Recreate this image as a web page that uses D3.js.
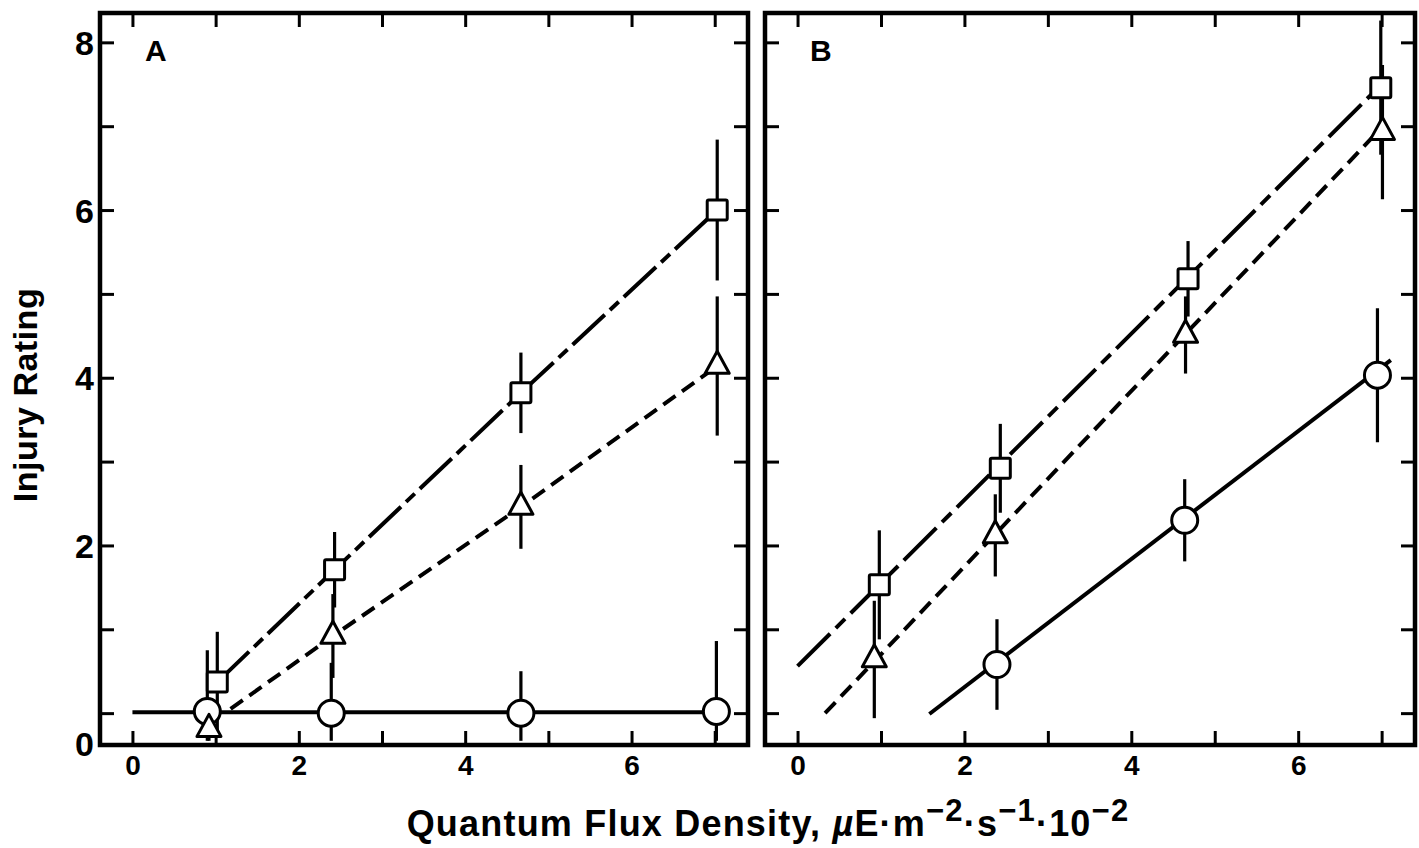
<!DOCTYPE html>
<html>
<head>
<meta charset="utf-8">
<script src="https://cdn.jsdelivr.net/npm/d3@7"></script>
<style>
  html, body { margin: 0; padding: 0; background: #fff; }
  svg { display: block; }
  text { font-family: "Liberation Sans", Arial, Helvetica, sans-serif; font-weight: bold; fill: #000; }
</style>
</head>
<body>
<svg id="chart" width="1419" height="848"></svg>
<script>
// ---------------- DATA ----------------
// Panel A
const aSquareX   = [1.02, 2.43, 4.67, 7.03];
const aSquareY   = [0.37, 1.71, 3.82, 6.00];
const aSquareErr = [0.60, 0.45, 0.48, 0.84];

const aTriX   = [0.92, 2.41, 4.67, 7.03];
const aTriY   = [-0.19, 0.92, 2.46, 4.14];
const aTriErr = [0.30, 0.50, 0.50, 0.83];

const aCircX   = [0.90, 2.39, 4.67, 7.02];
const aCircY   = [0.02, 0.00, 0.00, 0.02];
const aCircErr = [0.73, 0.60, 0.50, 0.84];

// Panel A connecting lines
const aSquareLine = [[1.02, 0.37], [2.43, 1.71], [4.67, 3.82], [7.03, 6.00]];
const aTriLine    = [[1.18, 0.05], [2.41, 0.92], [4.67, 2.46], [7.03, 4.14]];
const aCircLine   = [[0.0, 0.01], [7.02, 0.01]];

// Panel B
const bSquareX   = [0.98, 2.43, 4.68, 6.99];
const bSquareY   = [1.53, 2.92, 5.18, 7.46];
const bSquareErr = [0.65, 0.53, 0.45, 0.80];

const bTriX   = [0.92, 2.37, 4.65, 7.01];
const bTriY   = [0.64, 2.12, 4.51, 6.93];
const bTriErr = [0.70, 0.49, 0.46, 0.80];

const bCircX   = [2.39, 4.64, 6.95];
const bCircY   = [0.58, 2.30, 4.03];
const bCircErr = [0.54, 0.49, 0.80];

// Panel B regression lines
const bSquareLine = [[0.0, 0.56], [7.0, 7.50]];
const bTriLine    = [[0.33, 0.00], [6.95, 6.93]];
const bCircLine   = [[1.58, -0.01], [7.11, 4.21]];

// Axis ticks / labels
const xTicks = [0, 1, 2, 3, 4, 5, 6, 7];
const xLabels = [0, 2, 4, 6];
const yTicks = [0, 1, 2, 3, 4, 5, 6, 7, 8];
const yLabels = [0, 2, 4, 6, 8];
const panelNames = ["A", "B"];
const yTitle = "Injury Rating";

// ---------------- LAYOUT ----------------
const svg = d3.select("#chart");
const yTop = 13, yBottom = 745;
const xDomain = [-0.39, 7.40];
const yDomain = [-0.38, 8.35];
const y = d3.scaleLinear().domain(yDomain).range([yBottom, yTop]);

const panels = [
  { name: panelNames[0], left: 100, right: 748,
    squares: {x: aSquareX, y: aSquareY, e: aSquareErr},
    tris: {x: aTriX, y: aTriY, e: aTriErr},
    circs: {x: aCircX, y: aCircY, e: aCircErr},
    lines: [
      {pts: aCircLine, dash: null},
      {pts: aTriLine, dash: "15,8"},
      {pts: aSquareLine, dash: "44,7,12,7"}
    ], showY: true },
  { name: panelNames[1], left: 765, right: 1415,
    squares: {x: bSquareX, y: bSquareY, e: bSquareErr},
    tris: {x: bTriX, y: bTriY, e: bTriErr},
    circs: {x: bCircX, y: bCircY, e: bCircErr},
    lines: [
      {pts: bCircLine, dash: null},
      {pts: bTriLine, dash: "15,8"},
      {pts: bSquareLine, dash: "46,8,13,8"}
    ], showY: false }
];

const tickLen = 14;

panels.forEach(p => {
  const x = d3.scaleLinear().domain(xDomain).range([p.left, p.right]);
  const g = svg.append("g");

  const axB = g.append("g").attr("transform", `translate(0,${yBottom})`)
    .call(d3.axisBottom(x).tickValues(xTicks).tickSizeInner(-tickLen).tickSizeOuter(0).tickPadding(10)
      .tickFormat(d => xLabels.includes(d) ? d : ""));
  const axT = g.append("g").attr("transform", `translate(0,${yTop})`)
    .call(d3.axisTop(x).tickValues(xTicks).tickSizeInner(-tickLen).tickSizeOuter(0).tickFormat(""));
  const axL = g.append("g").attr("transform", `translate(${p.left},0)`)
    .call(d3.axisLeft(y).tickValues(yTicks).tickSizeInner(-tickLen).tickSizeOuter(0).tickPadding(6)
      .tickFormat(d => (p.showY && yLabels.includes(d)) ? d : ""));
  const axR = g.append("g").attr("transform", `translate(${p.right},0)`)
    .call(d3.axisRight(y).tickValues(yTicks).tickSizeInner(-tickLen).tickSizeOuter(0).tickFormat(""));

  [axB, axT, axL, axR].forEach(a => {
    a.select(".domain").remove();
    a.selectAll(".tick line").attr("stroke", "#000").attr("stroke-width", 3);
    a.selectAll("text").attr("font-family", null).attr("fill", "#000");
  });
  axB.selectAll("text").attr("font-size", 28);
  axL.selectAll("text").attr("font-size", 34).attr("dy", "0.36em");
  axL.selectAll(".tick").filter(d => d === 0).select("text")
    .attr("transform", `translate(0,${yBottom - y(0) - 2})`);

  g.append("rect").attr("x", p.left).attr("y", yTop)
    .attr("width", p.right - p.left).attr("height", yBottom - yTop)
    .attr("fill", "none").attr("stroke", "#000").attr("stroke-width", 4.5);

  g.append("text").attr("x", x(0.15)).attr("y", y(7.78)).attr("font-size", 30).text(p.name);

  const line = d3.line().x(d => x(d[0])).y(d => y(d[1]));
  p.lines.forEach(l => {
    g.append("path").attr("d", line(l.pts)).attr("fill", "none")
      .attr("stroke", "#000").attr("stroke-width", 4)
      .attr("stroke-dasharray", l.dash);
  });

  [p.circs, p.tris, p.squares].forEach(s => {
    s.x.forEach((xv, i) => {
      g.append("line")
        .attr("x1", x(xv)).attr("x2", x(xv))
        .attr("y1", y(Math.max(s.y[i] - s.e[i], yDomain[0] + 0.05)))
        .attr("y2", y(Math.min(s.y[i] + s.e[i], yDomain[1] - 0.05)))
        .attr("stroke", "#000").attr("stroke-width", 3.2);
    });
  });

  p.circs.x.forEach((xv, i) => {
    g.append("circle").attr("cx", x(xv)).attr("cy", y(p.circs.y[i])).attr("r", 13)
      .attr("fill", "#fff").attr("stroke", "#000").attr("stroke-width", 3);
  });
  p.tris.x.forEach((xv, i) => {
    const cx = x(xv), cy = y(p.tris.y[i]);
    const w = 24, h = 22;
    g.append("path")
      .attr("d", `M${cx},${cy - h * 2 / 3}L${cx + w / 2},${cy + h / 3}L${cx - w / 2},${cy + h / 3}Z`)
      .attr("fill", "#fff").attr("stroke", "#000").attr("stroke-width", 3).attr("stroke-linejoin", "round");
  });
  p.squares.x.forEach((xv, i) => {
    const s = 20;
    g.append("rect").attr("x", x(xv) - s / 2).attr("y", y(p.squares.y[i]) - s / 2)
      .attr("width", s).attr("height", s).attr("rx", 1.5)
      .attr("fill", "#fff").attr("stroke", "#000").attr("stroke-width", 3);
  });
});

svg.append("text")
  .attr("transform", `translate(37,395) rotate(-90)`)
  .attr("text-anchor", "middle").attr("font-size", 34).attr("letter-spacing", 0.5)
  .text(yTitle);

const xt = svg.append("text").attr("x", 768).attr("y", 836).attr("text-anchor", "middle")
  .attr("font-size", 36).attr("letter-spacing", 1.2);
xt.append("tspan").text("Quantum Flux Density, ");
xt.append("tspan").attr("font-style", "italic").text("\u00B5");
xt.append("tspan").text("E\u00B7m");
xt.append("tspan").attr("dy", -15).attr("font-size", 31).text("\u22122");
xt.append("tspan").attr("dy", 15).text("\u00B7s");
xt.append("tspan").attr("dy", -15).attr("font-size", 31).text("\u22121");
xt.append("tspan").attr("dy", 15).text("\u00B710");
xt.append("tspan").attr("dy", -15).attr("font-size", 31).text("\u22122");
</script>
</body>
</html>
